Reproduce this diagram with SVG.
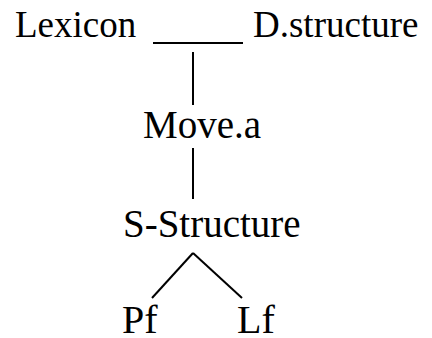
<svg xmlns="http://www.w3.org/2000/svg" width="432" height="338" viewBox="0 0 432 338">
<rect width="432" height="338" fill="#fff"/>
<g font-size="37" fill="#000">
<g id="lexicon"><text x="15" y="37" font-family="Tinos">Lexicon</text></g>
<g id="dstructure"><text x="253" y="37" font-family="Tinos">D.structure</text></g>
</g>
<g font-size="39" fill="#000">
<g id="movea"><text x="143" y="138" font-family="Tinos">Move.a</text></g>
<g id="sstructure"><text x="123" y="237" font-family="Tinos">S-Structure</text></g>
</g>
<g font-size="40" fill="#000">
<g id="pf"><text x="122" y="333" font-family="Tinos">Pf</text></g>
<g id="lf"><text x="237" y="333" font-family="Tinos">Lf</text></g>
</g>
<g id="connectors" stroke="#000" stroke-width="2" fill="none">
<line x1="153" y1="43" x2="243" y2="43"/>
<line x1="193" y1="52" x2="193" y2="105"/>
<line x1="193" y1="148" x2="193" y2="199"/>
<line x1="193" y1="253" x2="152" y2="298"/>
<line x1="193" y1="253" x2="242" y2="298"/>
</g>
</svg>
